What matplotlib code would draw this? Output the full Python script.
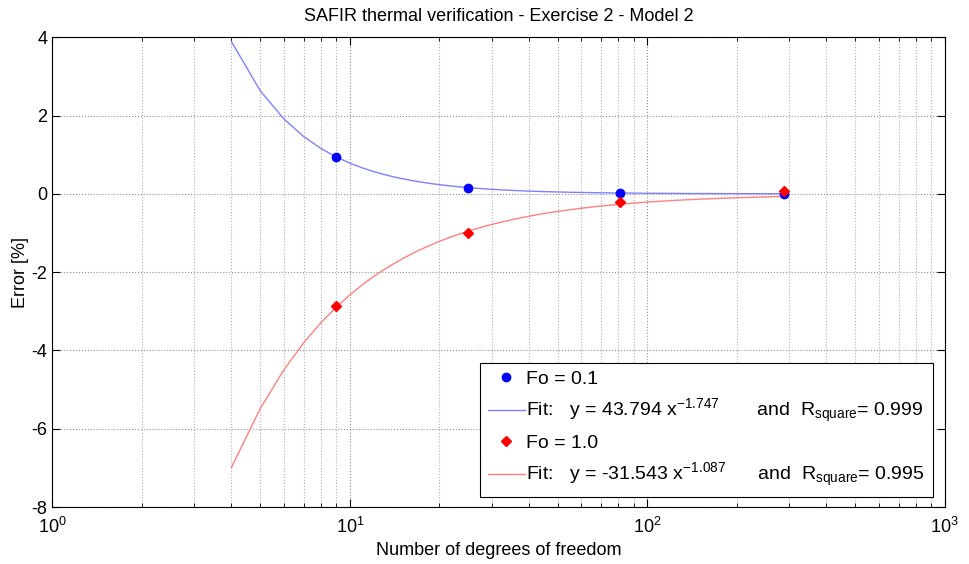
import matplotlib
matplotlib.use("Agg")
import matplotlib.pyplot as plt
import numpy as np
from matplotlib.ticker import LogLocator, NullFormatter

# Data
dof = [9, 25, 81, 289]
err_fo01 = [0.93, 0.16, 0.01, -0.01]
err_fo10 = [-2.86, -1.00, -0.22, 0.06]

# power-law fits given in the legend: y = a * x^b
fit_fo01 = (43.794, -1.747, 0.999)
fit_fo10 = (-31.543, -1.087, 0.995)
fit_x = np.arange(4, 290)  # fits evaluated at integer dof

plt.rcParams["font.family"] = ["Liberation Sans", "DejaVu Sans"]
plt.rcParams["mathtext.default"] = "regular"
plt.rcParams["axes.unicode_minus"] = False

fig = plt.figure(figsize=(9.69, 5.64), dpi=100)
ax = fig.add_axes([0.054, 0.101, 0.921, 0.833])

ax.plot(dof, err_fo01, 'o', color='#0000ff', markersize=6,
        label='Fo = 0.1', zorder=4)
ax.plot(fit_x, fit_fo01[0] * fit_x ** fit_fo01[1], '-', color='#8080ff', lw=1,
        label='Fit:   y = %.3f x$^{%.3f}$       and  R$_{square}$= %.3f' % fit_fo01,
        zorder=3)
ax.plot(dof, err_fo10, 'D', color='#ff0000', markersize=5,
        label='Fo = 1.0', zorder=4)
ax.plot(fit_x, fit_fo10[0] * fit_x ** fit_fo10[1], '-', color='#ff8080', lw=1,
        label='Fit:   y = %.3f x$^{%.3f}$      and  R$_{square}$= %.3f' % fit_fo10,
        zorder=3)

ax.set_xscale('log')
ax.set_xlim(1, 1000)
ax.set_ylim(-8, 4)
ax.set_yticks([-8, -6, -4, -2, 0, 2, 4])
ax.xaxis.set_minor_locator(LogLocator(base=10, subs=np.arange(2, 10)))
ax.xaxis.set_minor_formatter(NullFormatter())

ax.grid(True, which='major', axis='both', linestyle=':', color='#909090', lw=0.8)
ax.grid(True, which='minor', axis='x', linestyle=':', color='#b0b0b0', lw=0.8)

ax.tick_params(which='both', direction='in', top=True, right=True,
               labelsize=13)
ax.tick_params(axis='x', which='major', pad=7)
ax.tick_params(which='major', length=6)
ax.tick_params(which='minor', length=3)
for s in ax.spines.values():
    s.set_linewidth(0.8)

ax.set_title('SAFIR thermal verification - Exercise 2 - Model 2', fontsize=13, pad=12)
ax.set_xlabel('Number of degrees of freedom', fontsize=13, labelpad=4)
ax.set_ylabel('Error [%]', fontsize=13, labelpad=2)

leg = ax.legend(loc='lower right', fontsize=14, handlelength=1.9,
                handletextpad=0.1, borderpad=0.4, labelspacing=0.47,
                fancybox=False, framealpha=1, edgecolor='black',
                borderaxespad=0, bbox_to_anchor=(0.9866, 0.021))
leg.get_frame().set_linewidth(0.8)

fig.savefig('out.png', dpi=100)
